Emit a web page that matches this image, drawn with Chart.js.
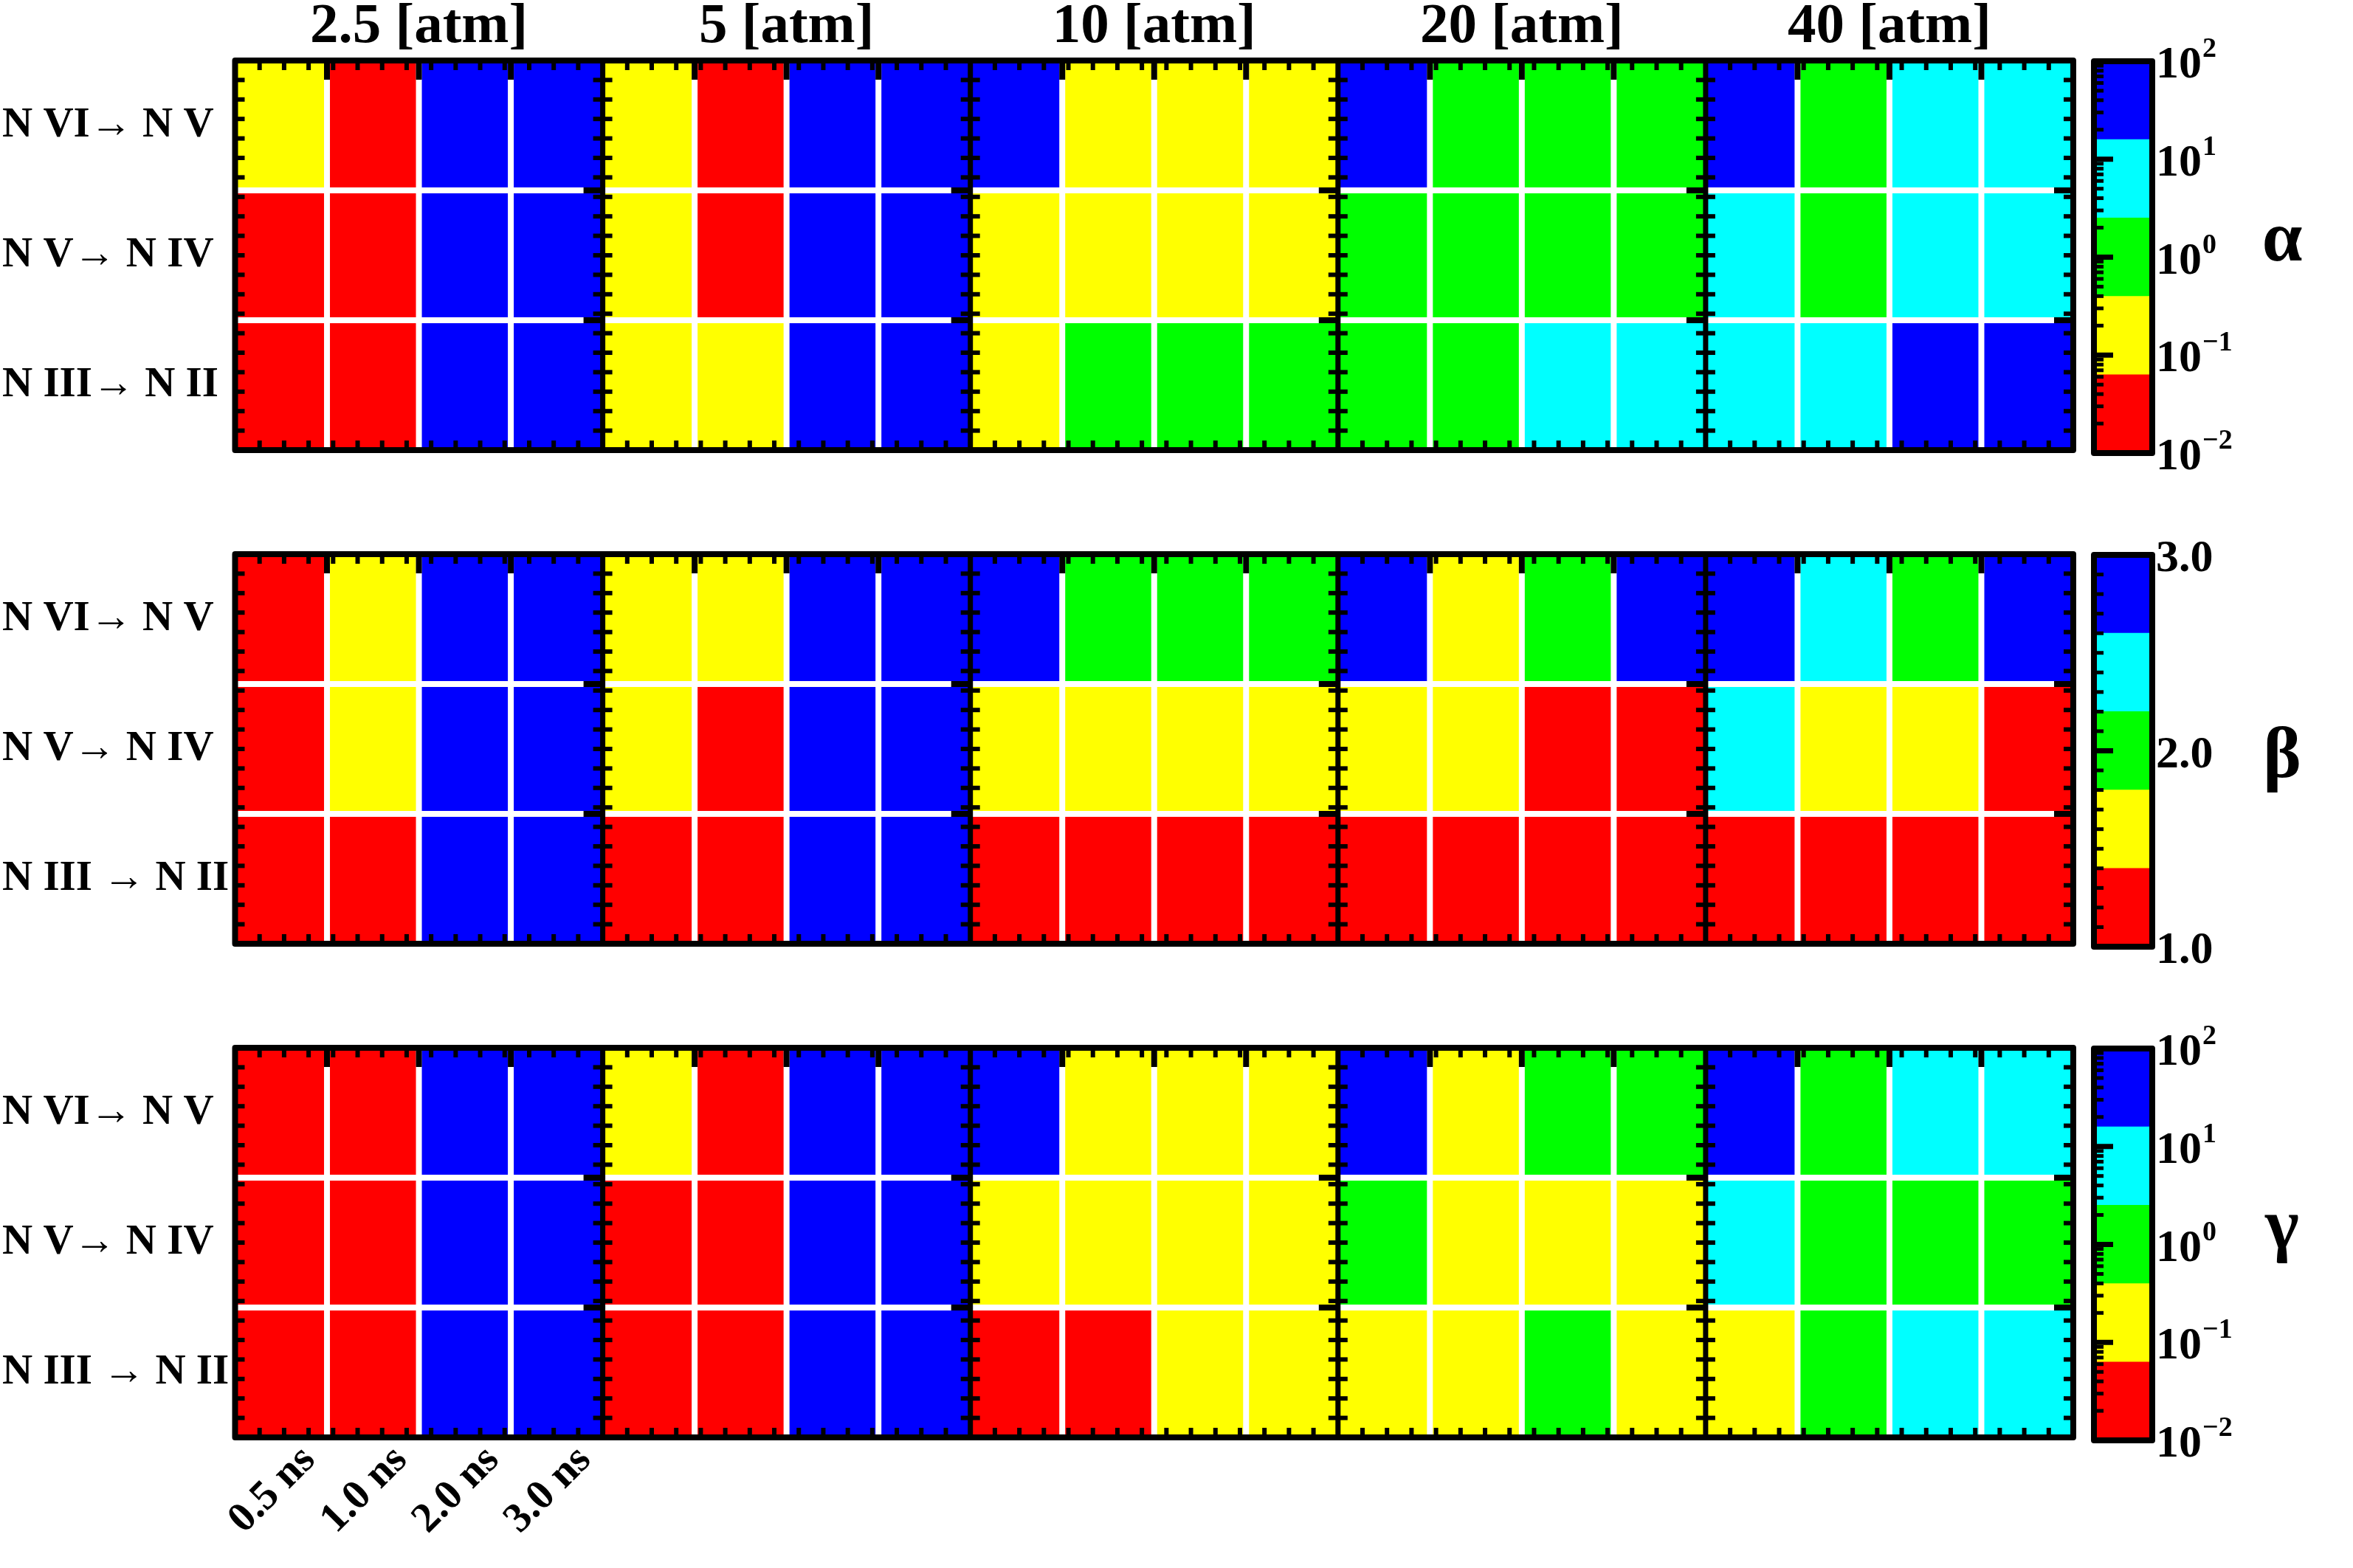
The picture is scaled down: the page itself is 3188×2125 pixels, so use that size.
<!DOCTYPE html>
<html>
<head>
<meta charset="utf-8">
<script src="https://cdn.jsdelivr.net/npm/chart.js@4.4.1/dist/chart.umd.min.js"></script>
<style>
html, body { margin: 0; padding: 0; background: #ffffff; }
#wrap { position: relative; width: 3188px; height: 2125px; overflow: hidden; background: #ffffff; }
#wrap canvas { position: absolute; }
</style>
</head>
<body>
<div id="wrap"></div>
<script>
// ---------------- data ----------------
const pressures = ['2.5 [atm]', '5 [atm]', '10 [atm]', '20 [atm]', '40 [atm]'];
const durations = ['0.5 ns', '1.0 ns', '2.0 ns', '3.0 ns'];
const rowLabelsTop = ['N VI\u2192 N V', 'N V\u2192 N IV', 'N III\u2192 N II'];
const rowLabelsLower = ['N VI\u2192 N V', 'N V\u2192 N IV', 'N III \u2192 N II'];

// alpha (log colour scale)
const alpha_NVI_NV   = [0.2, 0.03, 40, 40,  0.2, 0.03, 40, 40,  40, 0.2, 0.2, 0.2,  40, 1, 1, 1,  40, 1, 5, 5];
const alpha_NV_NIV   = [0.03, 0.03, 40, 40,  0.2, 0.03, 40, 40,  0.2, 0.2, 0.2, 0.2,  1, 1, 1, 1,  5, 1, 5, 5];
const alpha_NIII_NII = [0.03, 0.03, 40, 40,  0.2, 0.2, 40, 40,  0.2, 1, 1, 1,  1, 1, 5, 5,  5, 5, 40, 40];

// beta (linear colour scale)
const beta_NVI_NV   = [1.2, 1.6, 2.8, 2.8,  1.6, 1.6, 2.8, 2.8,  2.8, 2.0, 2.0, 2.0,  2.8, 1.6, 2.0, 2.8,  2.8, 2.4, 2.0, 2.8];
const beta_NV_NIV   = [1.2, 1.6, 2.8, 2.8,  1.6, 1.2, 2.8, 2.8,  1.6, 1.6, 1.6, 1.6,  1.6, 1.6, 1.2, 1.2,  2.4, 1.6, 1.6, 1.2];
const beta_NIII_NII = [1.2, 1.2, 2.8, 2.8,  1.2, 1.2, 2.8, 2.8,  1.2, 1.2, 1.2, 1.2,  1.2, 1.2, 1.2, 1.2,  1.2, 1.2, 1.2, 1.2];

// gamma (log colour scale)
const gamma_NVI_NV   = [0.03, 0.03, 40, 40,  0.2, 0.03, 40, 40,  40, 0.2, 0.2, 0.2,  40, 0.2, 1, 1,  40, 1, 5, 5];
const gamma_NV_NIV   = [0.03, 0.03, 40, 40,  0.03, 0.03, 40, 40,  0.2, 0.2, 0.2, 0.2,  1, 0.2, 0.2, 0.2,  5, 1, 1, 1];
const gamma_NIII_NII = [0.03, 0.03, 40, 40,  0.03, 0.03, 40, 40,  0.03, 0.03, 0.2, 0.2,  0.2, 0.2, 1, 0.2,  0.2, 1, 5, 5];

// colour bar levels and ticks
const logLevels  = [0.01, 0.0631, 0.398, 2.512, 15.85, 100];
const betaLevels = [1.0, 1.4, 1.8, 2.2, 2.6, 3.0];
const bandColors = ['#ff0000', '#ffff00', '#00ff00', '#00ffff', '#0000ff'];
const logTickValues = [0.01, 0.1, 1, 10, 100];
const logTickExps   = ['\u22122', '\u22121', '0', '1', '2'];
const betaTickValues = [1.0, 2.0, 3.0];
const betaTickLabels = ['1.0', '2.0', '3.0'];
const symbols = ['\u03b1', '\u03b2', '\u03b3'];

// ---------------- helpers ----------------
const FONT = '"Liberation Serif", "Times New Roman", serif';
const columns = pressures.flatMap(p => durations.map(d => p + ' / ' + d));
function colorFor(v, levels) {
  for (let i = 0; i < bandColors.length; i++) if (v < levels[i + 1]) return bandColors[i];
  return bandColors[bandColors.length - 1];
}
function line(ctx, x1, y1, x2, y2) { ctx.beginPath(); ctx.moveTo(x1, y1); ctx.lineTo(x2, y2); ctx.stroke(); }
function noPad(s) { s.paddingTop = 0; s.paddingBottom = 0; s.paddingLeft = 0; s.paddingRight = 0; }
const wrap = document.getElementById('wrap');
function makeCanvas(left, top, w, h) {
  const c = document.createElement('canvas');
  c.width = w; c.height = h;
  c.style.left = left + 'px'; c.style.top = top + 'px';
  c.style.width = w + 'px'; c.style.height = h + 'px';
  wrap.appendChild(c);
  return c;
}

// ---------------- plugins ----------------
const panelDeco = {
  id: 'panelDeco',
  afterDatasetsDraw(chart) {
    const { ctx, chartArea: ca, scales: { x, y } } = chart;
    const nCols = chart.data.labels.length;
    const per = durations.length;
    const nBlocks = nCols / per;
    const edge = i => i === 0 ? ca.left : (i === nCols ? ca.right : (x.getPixelForValue(i - 1) + x.getPixelForValue(i)) / 2);
    ctx.save();
    ctx.lineCap = 'butt';
    // white grid between cells
    ctx.strokeStyle = '#ffffff';
    ctx.lineWidth = 8;
    for (let r = 1; r < 3; r++) { const py = y.getPixelForValue(r); line(ctx, ca.left - 2, py, ca.right, py); }
    for (let i = 1; i < nCols; i++) if (i % per) { const px = edge(i); line(ctx, px, ca.top, px, ca.bottom + 2); }
    // minor ticks
    ctx.strokeStyle = '#000000';
    ctx.lineWidth = 6;
    for (let b = 0; b < nBlocks; b++) {
      const x0 = edge(b * per), x1 = edge((b + 1) * per);
      for (let k = 1; k < 15; k++) {
        const px = x0 + (x1 - x0) * k / 15;
        line(ctx, px, ca.top, px, ca.top + 13);
        line(ctx, px, ca.bottom, px, ca.bottom - 13);
      }
      for (let k = 1; k < 20; k++) {
        const py = y.getPixelForValue(3 - 3 * k / 20);
        line(ctx, x0, py, x0 + 13, py);
        line(ctx, x1, py, x1 - 13, py);
      }
    }
    // major ticks
    ctx.lineWidth = 8;
    for (let i = 1; i < nCols; i++) if (i % per) { const px = edge(i); line(ctx, px, ca.top, px, ca.top + 26); }
    for (let b = 1; b <= nBlocks; b++) {
      const x1 = edge(b * per);
      for (let r = 1; r < 3; r++) { const py = y.getPixelForValue(r); line(ctx, x1, py, x1 - 26, py); }
    }
    // block separators
    ctx.lineWidth = 7;
    for (let b = 1; b < nBlocks; b++) { const px = edge(b * per); line(ctx, px, ca.top, px, ca.bottom); }
    // frame
    ctx.lineWidth = 8;
    ctx.lineJoin = 'round';
    ctx.strokeRect(ca.left, ca.top, ca.right - ca.left, ca.bottom - ca.top);
    ctx.restore();
  }
};

const cbDeco = {
  id: 'cbDeco',
  afterDatasetsDraw(chart, args, opts) {
    const { ctx, chartArea: ca, scales: { y } } = chart;
    ctx.save();
    ctx.strokeStyle = '#000000';
    ctx.lineCap = 'butt';
    ctx.lineWidth = 5;
    opts.minor.forEach(v => { const py = y.getPixelForValue(v); line(ctx, ca.left, py, ca.left + 13, py); });
    ctx.lineWidth = 7;
    opts.major.forEach(v => { const py = y.getPixelForValue(v); line(ctx, ca.left, py, ca.left + 26, py); });
    ctx.lineWidth = 8;
    ctx.lineJoin = 'round';
    ctx.strokeRect(ca.left, ca.top, ca.right - ca.left, ca.bottom - ca.top);
    // tick labels
    ctx.fillStyle = '#000000';
    ctx.textAlign = 'left';
    ctx.textBaseline = 'alphabetic';
    opts.ticks.forEach(t => {
      const py = y.getPixelForValue(t.value);
      ctx.font = 'bold 62px ' + FONT;
      ctx.fillText(t.base, ca.right + 5, py + 22);
      if (t.sup) {
        const w = ctx.measureText(t.base).width;
        ctx.font = 'bold 38px ' + FONT;
        ctx.fillText(t.sup, ca.right + 5 + w + 1, py - 6);
      }
    });
    // symbol
    ctx.font = 'bold 98px ' + FONT;
    ctx.textAlign = 'center';
    ctx.fillText(opts.symbol, ca.right + 176, (ca.top + ca.bottom) / 2 + opts.symbolDy);
    ctx.restore();
  }
};

// ---------------- panels ----------------
const panels = [
  { rows: [alpha_NVI_NV, alpha_NV_NIV, alpha_NIII_NII], levels: logLevels, log: true, rowLabels: rowLabelsTop, symbol: symbols[0], symbolDy: 4 },
  { rows: [beta_NVI_NV, beta_NV_NIV, beta_NIII_NII], levels: betaLevels, log: false, rowLabels: rowLabelsLower, symbol: symbols[1], symbolDy: 35 },
  { rows: [gamma_NVI_NV, gamma_NV_NIV, gamma_NIII_NII], levels: logLevels, log: true, rowLabels: rowLabelsLower, symbol: symbols[2], symbolDy: 4 }
];
const panelTops = [82, 751, 1420];
const panelH = 528;

panels.forEach((p, idx) => {
  const topSpace = idx === 0 ? 82 : 20;
  const bottomSpace = idx === 2 ? 170 : 10;
  const cTop = panelTops[idx] - topSpace;
  const canvas = makeCanvas(0, cTop, 2830, topSpace + panelH + bottomSpace);
  const datasets = p.rows.map((vals, r) => ({
    data: vals.map(() => [2 - r, 3 - r]),
    backgroundColor: vals.map(v => colorFor(v, p.levels)),
    borderWidth: 0,
    grouped: false,
    barPercentage: 1,
    categoryPercentage: 1
  }));
  const scales = {
    x: {
      type: 'category', offset: true,
      grid: { display: false, drawTicks: false }, border: { display: false },
      ticks: {
        display: idx === 2, autoSkip: false, minRotation: 45, maxRotation: 45,
        padding: -2, labelOffset: 38, color: '#000000',
        font: { family: FONT, weight: 'bold', size: 57 },
        callback: (v, i) => i < durations.length ? durations[i] : ''
      },
      afterFit: s => { s.height = bottomSpace; noPad(s); }
    },
    y: {
      type: 'linear', min: 0, max: 3,
      grid: { display: false, drawTicks: false }, border: { display: false },
      afterBuildTicks: s => { s.ticks = [2.5, 1.5, 0.5].map(v => ({ value: v })); },
      ticks: {
        autoSkip: false, crossAlign: 'far', color: '#000000',
        font: { family: FONT, weight: 'bold', size: 57 },
        callback: v => p.rowLabels[Math.round(2.5 - v)]
      },
      afterFit: s => { s.width = 315.5; noPad(s); }
    }
  };
  if (idx === 0) {
    scales.xTop = {
      type: 'category', position: 'top', labels: pressures, offset: true,
      grid: { display: false, drawTicks: false }, border: { display: false },
      ticks: {
        autoSkip: false, maxRotation: 0, padding: -1, color: '#000000',
        labelOffset: c => (c.index === 0 ? -14 : 0),
        font: { family: FONT, weight: 'bold', size: 77 }
      },
      afterFit: s => { s.height = 82; noPad(s); }
    };
  }
  new Chart(canvas, {
    type: 'bar',
    data: { labels: columns, datasets },
    options: {
      responsive: false, animation: false, devicePixelRatio: 1,
      layout: { padding: { left: 3, right: 21, top: idx === 0 ? 0 : 20, bottom: 0 } },
      plugins: { legend: { display: false }, tooltip: { enabled: false } },
      scales
    },
    plugins: [panelDeco]
  });

  // colour bar
  const cbTop = panelTops[idx] + 1, cbBottom = panelTops[idx] + panelH + 4;
  const cbCanvas = makeCanvas(2830, cbTop - 40, 358, (cbBottom - cbTop) + 80);
  const minor = [], major = [];
  let tickDefs;
  if (p.log) {
    for (let d = -2; d <= 1; d++) for (let m = 2; m <= 9; m++) minor.push(m * Math.pow(10, d));
    major.push(0.1, 1, 10);
    tickDefs = logTickValues.map((v, i) => ({ value: v, base: '10', sup: logTickExps[i] }));
  } else {
    for (let k = 11; k <= 29; k++) if (k !== 20) minor.push(k / 10);
    major.push(2.0);
    tickDefs = betaTickValues.map((v, i) => ({ value: v, base: betaTickLabels[i], sup: '' }));
  }
  new Chart(cbCanvas, {
    type: 'bar',
    data: {
      labels: [''],
      datasets: bandColors.map((c, i) => ({
        data: [[p.levels[i], p.levels[i + 1]]],
        backgroundColor: c, borderWidth: 0, grouped: false,
        barPercentage: 1, categoryPercentage: 1
      }))
    },
    options: {
      responsive: false, animation: false, devicePixelRatio: 1,
      layout: { padding: { left: 7, right: 272, top: 40, bottom: 40 } },
      plugins: {
        legend: { display: false }, tooltip: { enabled: false },
        cbDeco: { minor, major, ticks: tickDefs, symbol: p.symbol, symbolDy: p.symbolDy }
      },
      scales: {
        x: { display: false, offset: true },
        y: { display: false, type: p.log ? 'logarithmic' : 'linear', min: p.levels[0], max: p.levels[p.levels.length - 1] }
      }
    },
    plugins: [cbDeco]
  });
});
</script>
</body>
</html>
